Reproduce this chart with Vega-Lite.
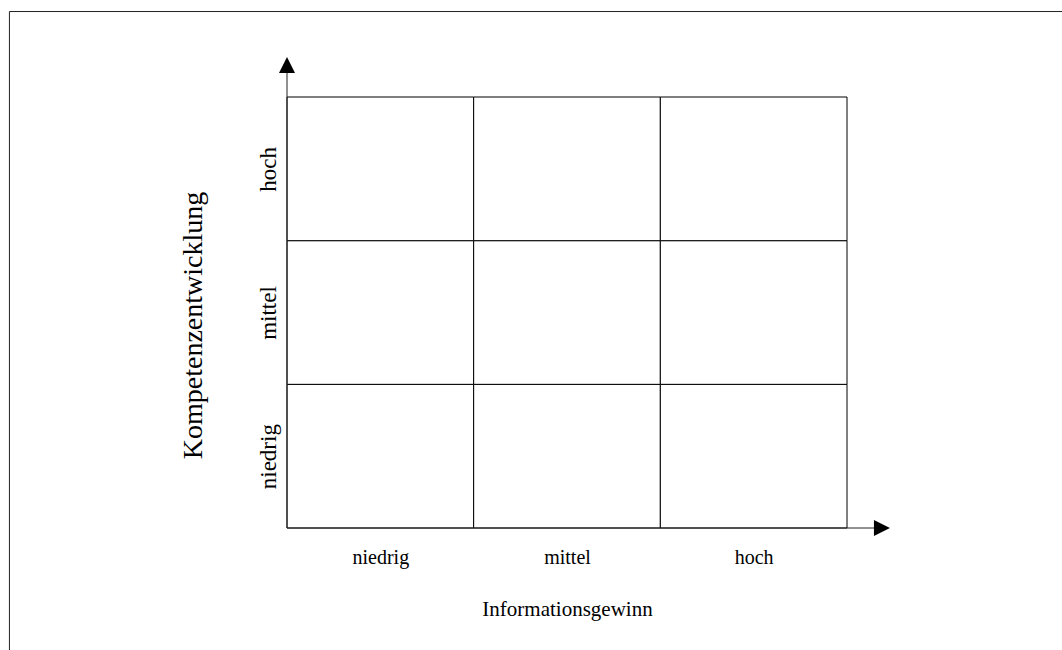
{
  "$schema": "https://vega.github.io/schema/vega-lite/v6.json",
  "autosize": {"type": "none"},
  "padding": {"left": 287, "top": 97, "right": 215, "bottom": 122},
  "width": 560,
  "height": 431,
  "background": "white",
  "config": {
    "view": {"stroke": null},
    "font": "Liberation Serif",
    "axisX": {
      "domain": false, "ticks": false, "tickSize": 0, "grid": false,
      "labelFont": "Liberation Serif", "labelFontSize": 20, "labelColor": "black",
      "labelPadding": 19, "labelFlush": false,
      "titleFont": "Liberation Serif", "titleFontSize": 21, "titleFontWeight": "normal",
      "titleColor": "black", "titlePadding": 31
    },
    "axisY": {
      "domain": false, "ticks": false, "tickSize": 0, "grid": false,
      "labelAngle": 270,
      "labelFont": "Liberation Serif", "labelFontSize": 23, "labelColor": "black",
      "labelPadding": 7, "labelFlush": false,
      "titleFont": "Liberation Serif", "titleFontSize": 28, "titleFontWeight": "normal",
      "titleColor": "black", "titlePadding": 50, "titleY": 228
    }
  },
  "datasets": {
    "cells": [
      {"info": "niedrig", "komp": "niedrig", "x0": 0, "x1": 1, "y0": 0, "y1": 1},
      {"info": "mittel", "komp": "niedrig", "x0": 1, "x1": 2, "y0": 0, "y1": 1},
      {"info": "hoch", "komp": "niedrig", "x0": 2, "x1": 3, "y0": 0, "y1": 1},
      {"info": "niedrig", "komp": "mittel", "x0": 0, "x1": 1, "y0": 1, "y1": 2},
      {"info": "mittel", "komp": "mittel", "x0": 1, "x1": 2, "y0": 1, "y1": 2},
      {"info": "hoch", "komp": "mittel", "x0": 2, "x1": 3, "y0": 1, "y1": 2},
      {"info": "niedrig", "komp": "hoch", "x0": 0, "x1": 1, "y0": 2, "y1": 3},
      {"info": "mittel", "komp": "hoch", "x0": 1, "x1": 2, "y0": 2, "y1": 3},
      {"info": "hoch", "komp": "hoch", "x0": 2, "x1": 3, "y0": 2, "y1": 3}
    ],
    "lines": [
      {"part": "frame-top", "x0": -1.487, "x1": 4.3, "y0": 3.595, "y1": 3.595},
      {"part": "frame-left", "x0": -1.487, "x1": -1.487, "y0": 3.595, "y1": -1.0},
      {"part": "x-axis", "x0": 0, "x1": 3.145, "y0": 0, "y1": 0},
      {"part": "y-axis", "x0": 0, "x1": 0, "y0": 0, "y1": 3.167}
    ],
    "arrows": [
      {"dir": "right", "x": 3.187, "y": 0},
      {"dir": "up", "x": 0, "y": 3.223}
    ]
  },
  "layer": [
    {
      "data": {"name": "cells"},
      "mark": {"type": "rect", "fill": "white", "stroke": "black", "strokeWidth": 1},
      "encoding": {
        "x": {
          "field": "x0", "type": "quantitative",
          "scale": {"domain": [0, 3], "nice": false, "zero": false},
          "axis": {"values": [0.5, 1.5, 2.5], "labelExpr": "datum.value < 1 ? 'niedrig' : datum.value < 2 ? 'mittel' : 'hoch'", "title": "Informationsgewinn"}
        },
        "x2": {"field": "x1"},
        "y": {
          "field": "y0", "type": "quantitative",
          "scale": {"domain": [0, 3], "nice": false, "zero": false},
          "axis": {"values": [0.5, 1.5, 2.5], "labelExpr": "datum.value < 1 ? 'niedrig' : datum.value < 2 ? 'mittel' : 'hoch'", "title": "Kompetenzentwicklung"}
        },
        "y2": {"field": "y1"}
      }
    },
    {
      "data": {"name": "lines"},
      "mark": {"type": "rule", "stroke": "#222", "strokeWidth": 1},
      "encoding": {
        "x": {
          "field": "x0", "type": "quantitative",
          "scale": {"domain": [0, 3], "nice": false, "zero": false},
          "axis": {"values": [0.5, 1.5, 2.5], "labelExpr": "datum.value < 1 ? 'niedrig' : datum.value < 2 ? 'mittel' : 'hoch'", "title": "Informationsgewinn"}
        },
        "x2": {"field": "x1"},
        "y": {
          "field": "y0", "type": "quantitative",
          "scale": {"domain": [0, 3], "nice": false, "zero": false},
          "axis": {"values": [0.5, 1.5, 2.5], "labelExpr": "datum.value < 1 ? 'niedrig' : datum.value < 2 ? 'mittel' : 'hoch'", "title": "Kompetenzentwicklung"}
        },
        "y2": {"field": "y1"}
      }
    },
    {
      "data": {"name": "arrows"},
      "mark": {"type": "point", "filled": true, "color": "black", "opacity": 1, "size": 256, "strokeWidth": 0},
      "encoding": {
        "x": {
          "field": "x", "type": "quantitative",
          "scale": {"domain": [0, 3], "nice": false, "zero": false},
          "axis": {"values": [0.5, 1.5, 2.5], "labelExpr": "datum.value < 1 ? 'niedrig' : datum.value < 2 ? 'mittel' : 'hoch'", "title": "Informationsgewinn"}
        },
        "y": {
          "field": "y", "type": "quantitative",
          "scale": {"domain": [0, 3], "nice": false, "zero": false},
          "axis": {"values": [0.5, 1.5, 2.5], "labelExpr": "datum.value < 1 ? 'niedrig' : datum.value < 2 ? 'mittel' : 'hoch'", "title": "Kompetenzentwicklung"}
        },
        "shape": {
          "field": "dir", "type": "nominal",
          "scale": {"domain": ["right", "up"], "range": ["M1,0L-1,-1L-1,1Z", "M0,-1L-1,1L1,1Z"]},
          "legend": null
        }
      }
    }
  ]
}
